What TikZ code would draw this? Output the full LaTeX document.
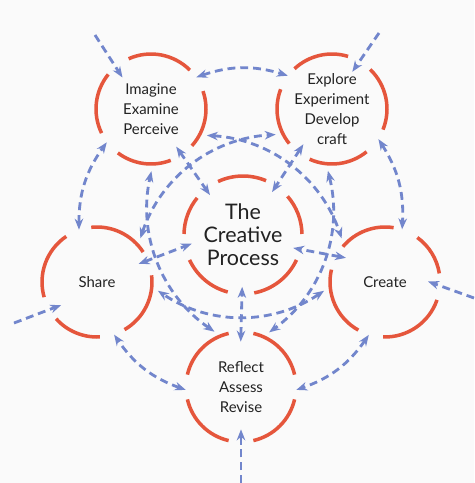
\documentclass[tikz,border=0pt]{standalone}
\usepackage{fontspec}
\setmainfont{Lato}
\usetikzlibrary{arrows.meta}

\definecolor{ringred}{RGB}{229,86,60}
\definecolor{flowblue}{RGB}{114,134,204}
\definecolor{inkgray}{RGB}{34,34,34}
\definecolor{pagebg}{RGB}{250,250,250}

\begin{document}
\begin{tikzpicture}[x = 0.02cm, y = -0.02cm,
		stage/.style = {circle, minimum size = 2.2cm, inner sep = 0pt, align = center,
			text = inkgray, font = \fontsize{8.5}{11.3}\selectfont},
		hub/.style = {circle, minimum size = 2.36cm, inner sep = 0pt, align = center,
			text = inkgray, font = \fontsize{12.2}{13}\selectfont},
		ring/.style = {draw = ringred, line width = 2pt},
		flow/.style = {draw = flowblue, line width = 1.6pt, dash pattern = on 4.5pt off 2.8pt,
			{Stealth[length = 2.2mm, width = 1.7mm]}-{Stealth[length = 2.2mm, width = 1.7mm]}},
		inflow/.style = {flow, -{Stealth[length = 2.2mm, width = 1.7mm]}, shorten >= -2.6mm},
		spoke/.style = {flow, shorten <= -2mm, shorten >= -1.5mm},
		across/.style = {flow, bend left = 34, shorten <= 1.4mm, shorten >= 1.4mm},
		around/.style = {flow, bend left = 18}]
	\fill[pagebg] (0, 0) rectangle (474, 483);
	\useasboundingbox (0, 0) rectangle (474, 483);

	% Nodes
	\node[hub] (cp) at (243, 235) {The\\Creative\\Process};
	\node[stage] (imagine) at (151, 109) {Imagine\\Examine\\Perceive};
	\node[stage] (explore) at (332, 109) {Explore\\Experiment\\Develop\\craft};
	\node[stage] (share) at (97, 282) {Share};
	\node[stage] (create) at (385, 282) {Create};
	\node[stage] (reflect) at (241, 387) {Reflect\\Assess\\Revise};

	\coordinate (from-top-left) at (95, 35);
	\coordinate (from-top-right) at (379, 33);
	\coordinate (from-left) at (14, 323);
	\coordinate (from-right) at (474, 298);
	\coordinate (from-bottom) at (241, 483);

	% Rings
	\foreach \a/\b in {67/115, 141/179, 205/255, 281/335, 361/401}
		\draw[ring] (cp.center) ++(\a:1.18cm) arc[start angle = \a, end angle = \b, radius = 1.18cm];
	\foreach \n/\arcs in {imagine/{45/114, 141/206, 233/291, 318/379},
			explore/{73/133, 159/219, 246/309, 338/406},
			share/{33/96, 124/196, 222/273, 300/367},
			create/{81/140, 167/241, 268/341, 369/414},
			reflect/{103/167, 193/257, 283/347, 373/437}}
		\foreach \a/\b in \arcs
			\draw[ring] (\n.center) ++(\a:1.1cm) arc[start angle = \a, end angle = \b, radius = 1.1cm];

	% Edges
	\draw[inflow] (from-top-left) -- (imagine.130);
	\draw[inflow] (from-top-right) -- (explore.60);
	\draw[inflow] (from-left) -- (share.210);
	\draw[inflow] (from-right) -- (create.-4);
	\draw[inflow] (from-bottom) -- (reflect.-90);

	\draw[around] (imagine.35) to (explore.143);
	\draw[around] (explore.-33) to (create.72);
	\draw[around] (create.-107) to (reflect.-3);
	\draw[around] (reflect.-177) to (share.-72);
	\draw[around] (share.109) to (imagine.-143);

	\draw[spoke] (imagine.-56) -- (cp.129);
	\draw[spoke] (explore.-128) -- (cp.56);
	\draw[spoke] (share.23) -- (cp.191);
	\draw[spoke] (create.152) -- (cp.-14);
	\draw[spoke] (reflect.90) -- (cp.-91);

	\draw[across] (imagine.-28) to (create.138);
	\draw[across] (share.42) to (explore.207);
	\draw[across] (reflect.112) to (imagine.-88);
	\draw[across] (explore.-96) to (reflect.66);
	\draw[across] (create.185) to (share.-5);
\end{tikzpicture}
\end{document}
